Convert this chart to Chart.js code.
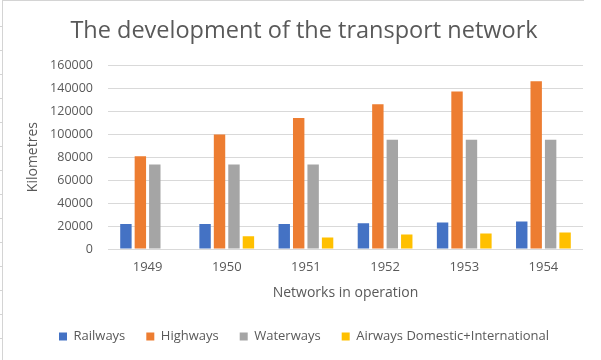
<!DOCTYPE html>
<html>
<head>
<meta charset="utf-8">
<script src="https://cdn.jsdelivr.net/npm/chart.js@4"></script>
<style>
  body { margin: 0; background: #fff; }
  #wrap { position: relative; width: 601px; height: 360px; }
  #frame { position: absolute; left: 2px; top: 0; width: 582px; height: 360px;
           border-left: 1px solid #d4d4d4; border-top: 1px solid #d4d4d4; box-sizing: border-box; }
  #rows { position: absolute; left: 0; top: 3px; width: 2px; height: 357px;
          background: repeating-linear-gradient(to bottom, transparent 0, transparent 23px, #d4d4d4 23px, #d4d4d4 24px); }
</style>
</head>
<body>
<div id="wrap">
  <canvas id="myChart" width="601" height="360"></canvas>
  <div id="frame"></div>
  <div id="rows"></div>
</div>
<script>
// data
var years = ['1949', '1950', '1951', '1952', '1953', '1954'];
var railways = [21800, 21800, 21800, 22500, 23000, 24000];
var highways = [80700, 99600, 114000, 126000, 137000, 146000];
var waterways = [73500, 73500, 73500, 95000, 95000, 95000];
var airways = [null, 11000, 10000, 12700, 13500, 14400];
var yTicks = [0, 20000, 40000, 60000, 80000, 100000, 120000, 140000, 160000];

var textColor = '#595959';
var fontFamily = '"Open Sans", sans-serif';

const ctx = document.getElementById('myChart');
const myChart = new Chart(ctx, {
    type: 'bar',
    data: {
        labels: years,
        datasets: [
            { label: 'Railways', data: railways, backgroundColor: '#4472C4' },
            { label: 'Highways', data: highways, backgroundColor: '#ED7D31' },
            { label: 'Waterways', data: waterways, backgroundColor: '#A5A5A5' },
            { label: 'Airways Domestic+International', data: airways, backgroundColor: '#FFC000' }
        ]
    },
    options: {
        responsive: false,
        animation: false,
        datasets: {
            bar: { categoryPercentage: 0.73, barPercentage: 0.79 }
        },
        layout: { padding: { left: 25, right: 18, top: 0, bottom: 7 } },
        plugins: {
            title: {
                display: true,
                text: 'The development of the transport network',
                color: textColor,
                font: { family: fontFamily, size: 23.5, weight: 'normal' },
                padding: { top: 17, bottom: 20 }
            },
            legend: {
                position: 'bottom',
                labels: {
                    color: textColor,
                    font: { family: fontFamily, size: 13 },
                    boxWidth: 8,
                    boxHeight: 8,
                    padding: 21
                }
            },
            tooltip: { enabled: false }
        },
        scales: {
            x: {
                grid: { display: false, drawTicks: false },
                border: { display: false },
                ticks: { color: textColor, font: { family: fontFamily, size: 13 }, padding: 10 },
                title: {
                    display: true,
                    text: 'Networks in operation',
                    color: textColor,
                    font: { family: fontFamily, size: 14 },
                    padding: { top: 0, bottom: 7.6 }
                }
            },
            y: {
                min: 0,
                max: 160000,
                afterFit: function(scale) { scale.width = 83; },
                afterBuildTicks: function(scale) {
                    scale.ticks = yTicks.map(function(v) { return { value: v }; });
                },
                grid: { color: '#D9D9D9', drawTicks: false },
                border: { display: false },
                ticks: {
                    color: textColor,
                    font: { family: fontFamily, size: 12.5 },
                    padding: 15,
                    callback: function(v) { return String(v); }
                },
                title: {
                    display: true,
                    text: 'Kilometres',
                    color: textColor,
                    font: { family: fontFamily, size: 14 },
                    padding: { top: 0, bottom: 0 }
                }
            }
        }
    }
});
</script>
</body>
</html>
